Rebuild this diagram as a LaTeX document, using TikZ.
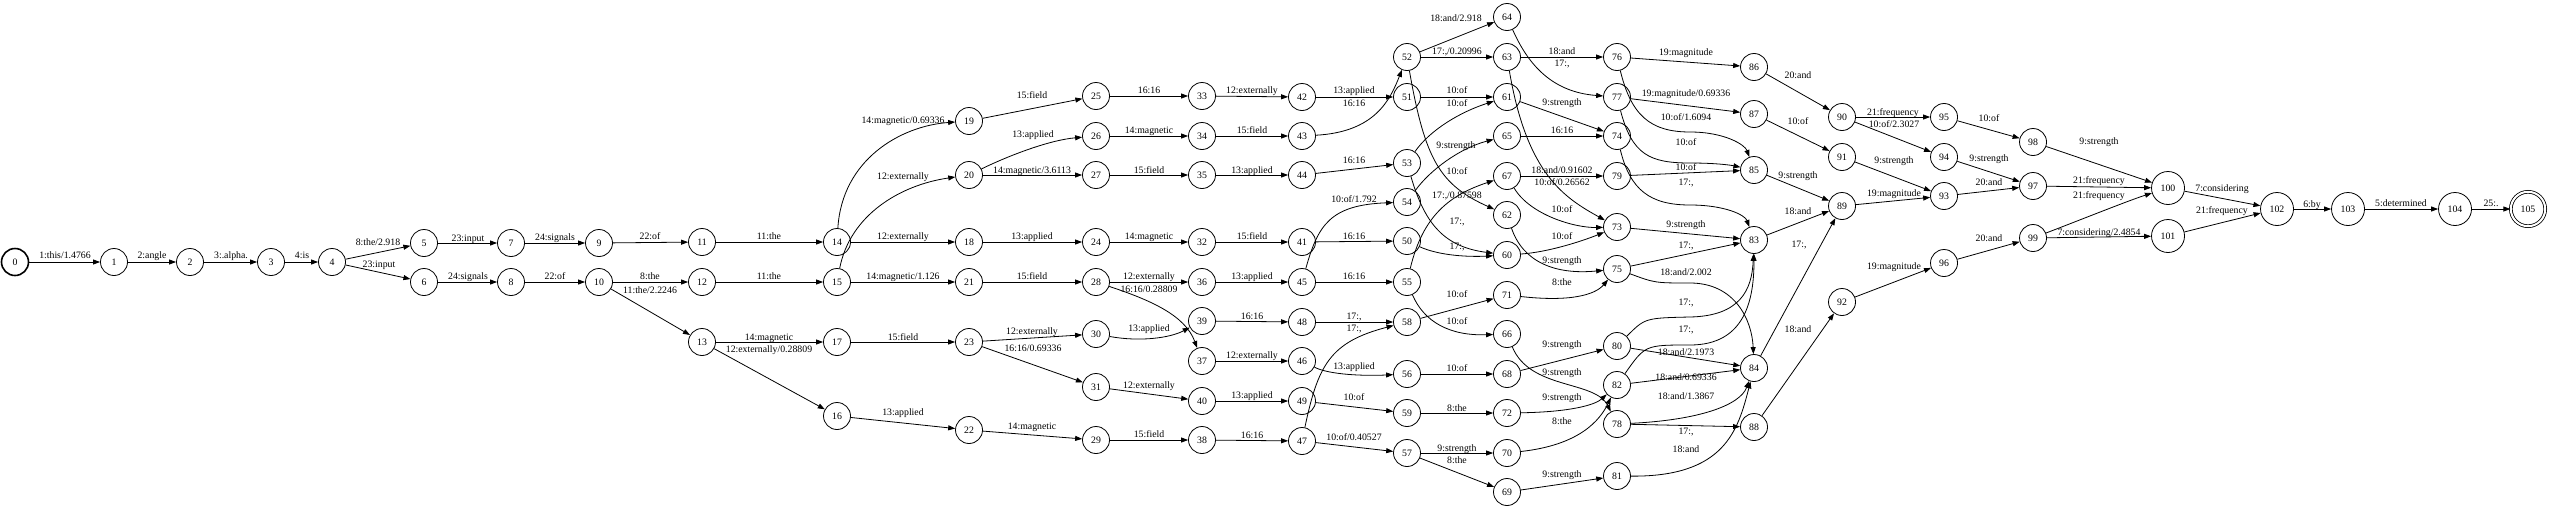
\documentclass[tikz,border=0pt]{standalone}
\usepackage{fontspec}
\setmainfont{Liberation Serif}
\usetikzlibrary{arrows.meta}
\newcommand\lbf{\fontsize{9.8}{10}\selectfont}
\tikzset{
 st/.style={circle, draw, line width=0.8pt, minimum size=27pt, inner sep=0pt, font=\lbf},
 stw/.style={st, minimum size=33pt},
 e/.style={draw, line width=0.8pt, -{Triangle[length=7pt,width=5pt]}},
 lb/.style={font=\lbf, inner sep=0pt, text height=6.8pt, text depth=2pt}
}
\begin{document}
\begin{tikzpicture}[x=1pt,y=-1pt]
\useasboundingbox (0,0) rectangle (2550,509);
% nodes
\node[st, line width=1.6pt] (n0) at (15,262) {0};
\foreach \n/\x/\y in {1/114/262,2/190/262,3/271/262,4/332/262,5/424/243,6/424/282,7/511/243,8/511/282,9/599/243,10/599/282,11/702/242,12/702/282,13/702/342,14/837/242,15/837/282,16/837/416,17/837/342,18/969/242,19/969/121,20/969/175,21/969/282,22/969/430,23/969/342,24/1096/242,25/1096/96,26/1096/136,27/1096/175,28/1096/282,29/1096/440,30/1096/334,31/1096/387,32/1202/242,33/1202/96,34/1202/136,35/1202/175,36/1202/282,37/1202/361,38/1202/440,39/1202/321,40/1202/401,41/1302/242,42/1302/97,43/1302/136,44/1302/175,45/1302/282,46/1302/361,47/1302/441,48/1302/322,49/1302/401,50/1407/241,51/1407/97,52/1407/57,53/1407/163,54/1407/202,55/1407/282,56/1407/374,57/1407/453,58/1407/322,59/1407/413,60/1507/255,61/1507/97,62/1507/215,63/1507/57,64/1507/17,65/1507/136,66/1507/334,67/1507/176,68/1507/374,69/1507/492,70/1507/453,71/1507/295,72/1507/413,73/1617/227,74/1617/136,75/1617/269,76/1617/57,77/1617/97,78/1617/424,79/1617/176,80/1617/346,81/1617/476,82/1617/385,83/1754/240,84/1754/368,85/1754/170,86/1754/67,87/1754/114,88/1754/427,89/1842/206,90/1842/117,91/1842/157,92/1842/302,93/1944/196,94/1944/157,95/1944/117,96/1944/263,97/2033/186,98/2033/142,99/2033/238}
  \node[st] (n\n) at (\x,\y) {\n};
\foreach \n/\x/\y in {100/2168/188,101/2168/236,102/2277/209,103/2348/209,104/2455/209}
  \node[stw] (n\n) at (\x,\y) {\n};
\node[stw, double, double distance=2pt, minimum size=34.4pt] (n105) at (2528,209) {105};
% edges
\draw[e] (n0) -- (n1) node[lb] at (65,256) {1:this/1.4766};
\draw[e] (n1) -- (n2) node[lb] at (152,256) {2:angle};
\draw[e] (n2) -- (n3) node[lb] at (231,256) {3:.alpha.};
\draw[e] (n3) -- (n4) node[lb] at (302,256) {4:is};
\draw[e] (n4) -- (n5) node[lb] at (378,243) {8:the/2.918};
\draw[e] (n4) -- (n6) node[lb] at (379,265) {23:input};
\draw[e] (n5) -- (n7) node[lb] at (468,239) {23:input};
\draw[e] (n7) -- (n9) node[lb] at (555,238) {24:signals};
\draw[e] (n9) -- (n11) node[lb] at (650,237) {22:of};
\draw[e] (n11) -- (n14) node[lb] at (769,237) {11:the};
\draw[e] (n6) -- (n8) node[lb] at (468,277) {24:signals};
\draw[e] (n8) -- (n10) node[lb] at (555,277) {22:of};
\draw[e] (n10) -- (n12) node[lb] at (650,277) {8:the};
\draw[e] (n10) -- (n13) node[lb] at (650,291) {11:the/2.2246};
\draw[e] (n12) -- (n15) node[lb] at (769,277) {11:the};
\draw[e] (n13) -- (n17) node[lb] at (769,338) {14:magnetic};
\draw[e] (n13) -- (n16) node[lb] at (769,350) {12:externally/0.28809};
\draw[e] (n14) .. controls (842,160) and (900,126) .. (n19) node[lb] at (903,121) {14:magnetic/0.69336};
\draw[e] (n14) -- (n18) node[lb] at (903,237) {12:externally};
\draw[e] (n15) .. controls (850,215) and (900,185) .. (n20) node[lb] at (903,177) {12:externally};
\draw[e] (n15) -- (n21) node[lb] at (903,277) {14:magnetic/1.126};
\draw[e] (n17) -- (n23) node[lb] at (903,338) {15:field};
\draw[e] (n16) -- (n22) node[lb] at (903,413) {13:applied};
\draw[e] (n19) -- (n25) node[lb] at (1032,96) {15:field};
\draw[e] (n20) .. controls (1010,155) and (1050,140) .. (n26) node[lb] at (1033,135) {13:applied};
\draw[e] (n20) -- (n27) node[lb] at (1032,171) {14:magnetic/3.6113};
\draw[e] (n18) -- (n24) node[lb] at (1032,237) {13:applied};
\draw[e] (n21) -- (n28) node[lb] at (1032,277) {15:field};
\draw[e] (n23) -- (n30) node[lb] at (1032,332) {12:externally};
\draw[e] (n23) -- (n31) node[lb] at (1033,349) {16:16/0.69336};
\draw[e] (n22) -- (n29) node[lb] at (1032,427) {14:magnetic};
\draw[e] (n25) -- (n33) node[lb] at (1149,91) {16:16};
\draw[e] (n26) -- (n34) node[lb] at (1149,131) {14:magnetic};
\draw[e] (n27) -- (n35) node[lb] at (1149,171) {15:field};
\draw[e] (n24) -- (n32) node[lb] at (1149,237) {14:magnetic};
\draw[e] (n28) -- (n36) node[lb] at (1149,277) {12:externally};
\draw[e] (n28) .. controls (1150,300) and (1185,315) .. (n37) node[lb] at (1149,290) {16:16/0.28809};
\draw[e] (n30) .. controls (1140,342) and (1170,338) .. (n39) node[lb] at (1149,329) {13:applied};
\draw[e] (n31) -- (n40) node[lb] at (1149,386) {12:externally};
\draw[e] (n29) -- (n38) node[lb] at (1149,435) {15:field};
\draw[e] (n33) -- (n42) node[lb] at (1252,91) {12:externally};
\draw[e] (n34) -- (n43) node[lb] at (1252,131) {15:field};
\draw[e] (n35) -- (n44) node[lb] at (1252,171) {13:applied};
\draw[e] (n32) -- (n41) node[lb] at (1252,237) {15:field};
\draw[e] (n36) -- (n45) node[lb] at (1252,277) {13:applied};
\draw[e] (n39) -- (n48) node[lb] at (1252,317) {16:16};
\draw[e] (n37) -- (n46) node[lb] at (1252,356) {12:externally};
\draw[e] (n40) -- (n49) node[lb] at (1252,396) {13:applied};
\draw[e] (n38) -- (n47) node[lb] at (1252,436) {16:16};
\draw[e] (n42) -- (n51) node[lb] at (1354,91) {13:applied};
\draw[e] (n43) .. controls (1375,132) and (1390,100) .. (n52) node[lb] at (1354,104) {16:16};
\draw[e] (n44) -- (n53) node[lb] at (1354,161) {16:16};
\draw[e] (n45) .. controls (1318,225) and (1330,205) .. (n54) node[lb] at (1354,200) {10:of/1.792};
\draw[e] (n41) -- (n50) node[lb] at (1354,237) {16:16};
\draw[e] (n45) -- (n55) node[lb] at (1354,277) {16:16};
\draw[e] (n48) -- (n58) node[lb] at (1354,317) {17:,};
\draw[e] (n47) .. controls (1318,365) and (1330,342) .. (n58) node[lb] at (1354,329) {17:,};
\draw[e] (n46) .. controls (1330,375) and (1365,376) .. (n56) node[lb] at (1354,367) {13:applied};
\draw[e] (n49) -- (n59) node[lb] at (1354,398) {10:of};
\draw[e] (n47) -- (n57) node[lb] at (1354,438) {10:of/0.40527};
\draw[e] (n52) -- (n64) node[lb] at (1456,19) {18:and/2.918};
\draw[e] (n52) -- (n63) node[lb] at (1457,52) {17:,/0.20996};
\draw[e] (n51) -- (n61) node[lb] at (1457,91) {10:of};
\draw[e] (n53) .. controls (1430,130) and (1460,112) .. (n61) node[lb] at (1457,104) {10:of};
\draw[e] (n54) .. controls (1430,170) and (1460,148) .. (n65) node[lb] at (1456,146) {9:strength};
\draw[e] (n52) .. controls (1425,160) and (1440,185) .. (n62) node[lb] at (1457,172) {10:of};
\draw[e] (n55) .. controls (1423,215) and (1450,195) .. (n67) node[lb] at (1457,196) {17:,/0.87598};
\draw[e] (n53) .. controls (1425,225) and (1445,247) .. (n60) node[lb] at (1457,222) {17:,};
\draw[e] (n50) .. controls (1440,256) and (1470,257) .. (n60) node[lb] at (1457,247) {17:,};
\draw[e] (n58) -- (n71) node[lb] at (1457,295) {10:of};
\draw[e] (n55) .. controls (1424,322) and (1450,336) .. (n66) node[lb] at (1457,322) {10:of};
\draw[e] (n56) -- (n68) node[lb] at (1457,369) {10:of};
\draw[e] (n59) -- (n72) node[lb] at (1457,409) {8:the};
\draw[e] (n57) -- (n70) node[lb] at (1457,449) {9:strength};
\draw[e] (n57) -- (n69) node[lb] at (1457,461) {8:the};
\draw[e] (n63) -- (n76) node[lb] at (1562,52) {18:and};
\draw[e] (n64) .. controls (1527,62) and (1550,92) .. (n77) node[lb] at (1562,64) {17:,};
\draw[e] (n61) -- (n74) node[lb] at (1562,103) {9:strength};
\draw[e] (n65) -- (n74) node[lb] at (1562,131) {16:16};
\draw[e] (n67) -- (n79) node[lb] at (1562,171) {18:and/0.91602};
\draw[e] (n63) .. controls (1527,175) and (1565,198) .. (n73) node[lb] at (1562,183) {10:of/0.26562};
\draw[e] (n67) .. controls (1530,215) and (1575,228) .. (n73) node[lb] at (1562,210) {10:of};
\draw[e] (n60) .. controls (1550,252) and (1585,240) .. (n73) node[lb] at (1562,237) {10:of};
\draw[e] (n62) .. controls (1523,262) and (1555,275) .. (n75) node[lb] at (1562,261) {9:strength};
\draw[e] (n71) .. controls (1570,302) and (1595,295) .. (n75) node[lb] at (1562,283) {8:the};
\draw[e] (n68) -- (n80) node[lb] at (1562,345) {9:strength};
\draw[e] (n66) .. controls (1530,390) and (1595,380) .. (n78) node[lb] at (1562,373) {9:strength};
\draw[e] (n72) .. controls (1570,412) and (1595,405) .. (n82) node[lb] at (1562,398) {9:strength};
\draw[e] (n70) .. controls (1580,445) and (1600,420) .. (n82) node[lb] at (1562,422) {8:the};
\draw[e] (n69) -- (n81) node[lb] at (1562,475) {9:strength};
\draw[e] (n76) -- (n86) node[lb] at (1686,53) {19:magnitude};
\draw[e] (n77) -- (n87) node[lb] at (1686,94) {19:magnitude/0.69336};
\draw[e] (n76) .. controls (1631,115) and (1650,132) .. (1690,132) .. controls (1725,132) and (1745,145) .. (n85) node[lb] at (1686,118) {10:of/1.6094};
\draw[e] (n77) .. controls (1632,155) and (1650,163) .. (1690,163) .. controls (1715,163) and (1730,165) .. (n85) node[lb] at (1686,143) {10:of};
\draw[e] (n79) -- (n85) node[lb] at (1686,168) {10:of};
\draw[e] (n74) .. controls (1630,190) and (1650,205) .. (1690,205) .. controls (1725,205) and (1745,215) .. (n83) node[lb] at (1686,183) {17:,};
\draw[e] (n73) -- (n83) node[lb] at (1686,225) {9:strength};
\draw[e] (n75) -- (n83) node[lb] at (1686,246) {17:,};
\draw[e] (n75) .. controls (1655,283) .. (1690,283) .. controls (1735,283) and (1752,320) .. (n84) node[lb] at (1686,273) {18:and/2.002};
\draw[e] (n80) .. controls (1645,318) .. (1690,317) .. controls (1740,316) and (1752,290) .. (n83) node[lb] at (1686,303) {17:,};
\draw[e] (n82) .. controls (1645,345) .. (1690,345) .. controls (1745,345) and (1754,300) .. (n83) node[lb] at (1686,330) {17:,};
\draw[e] (n80) -- (n84) node[lb] at (1686,353) {18:and/2.1973};
\draw[e] (n82) -- (n84) node[lb] at (1686,378) {18:and/0.69336};
\draw[e] (n78) .. controls (1700,420) and (1740,405) .. (n84) node[lb] at (1686,397) {18:and/1.3867};
\draw[e] (n78) -- (n88) node[lb] at (1686,432) {17:,};
\draw[e] (n81) .. controls (1725,477) and (1738,430) .. (n84) node[lb] at (1686,450) {18:and};
\draw[e] (n86) -- (n90) node[lb] at (1798,76) {20:and};
\draw[e] (n87) -- (n91) node[lb] at (1798,122) {10:of};
\draw[e] (n85) -- (n89) node[lb] at (1798,176) {9:strength};
\draw[e] (n83) -- (n89) node[lb] at (1798,212) {18:and};
\draw[e] (n84) -- (n89) node[lb] at (1799,245) {17:,};
\draw[e] (n88) -- (n92) node[lb] at (1798,330) {18:and};
\draw[e] (n90) -- (n95) node[lb] at (1893,113) {21:frequency};
\draw[e] (n90) -- (n94) node[lb] at (1894,125) {10:of/2.3027};
\draw[e] (n91) -- (n93) node[lb] at (1894,161) {9:strength};
\draw[e] (n89) -- (n93) node[lb] at (1894,194) {19:magnitude};
\draw[e] (n92) -- (n96) node[lb] at (1894,267) {19:magnitude};
\draw[e] (n95) -- (n98) node[lb] at (1989,119) {10:of};
\draw[e] (n94) -- (n97) node[lb] at (1989,159) {9:strength};
\draw[e] (n93) -- (n97) node[lb] at (1989,183) {20:and};
\draw[e] (n96) -- (n99) node[lb] at (1989,239) {20:and};
\draw[e] (n98) -- (n100) node[lb] at (2099,142) {9:strength};
\draw[e] (n97) -- (n100) node[lb] at (2099,181) {21:frequency};
\draw[e] (n99) .. controls (2080,220) and (2130,200) .. (n100) node[lb] at (2099,196) {21:frequency};
\draw[e] (n99) -- (n101) node[lb] at (2099,233) {7:considering/2.4854};
\draw[e] (n100) -- (n102) node[lb] at (2222,189) {7:considering};
\draw[e] (n101) -- (n102) node[lb] at (2222,211) {21:frequency};
\draw[e] (n102) -- (n103) node[lb] at (2312,205) {6:by};
\draw[e] (n103) -- (n104) node[lb] at (2401,204) {5:determined};
\draw[e] (n104) -- (n105) node[lb] at (2491,204) {25:.};
\end{tikzpicture}
\end{document}
